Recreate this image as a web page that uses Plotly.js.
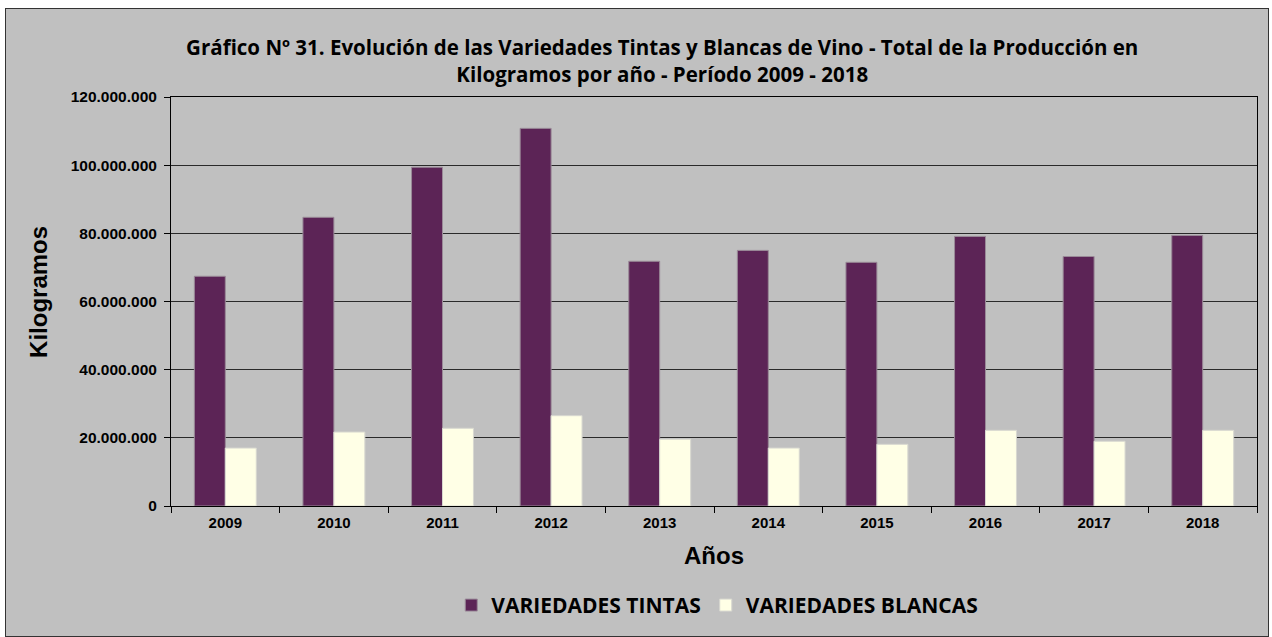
<!DOCTYPE html>
<html>
<head>
<meta charset="utf-8">
<script src="https://cdn.plot.ly/plotly-3.0.1.min.js"></script>
<style>
  html, body { margin: 0; padding: 0; background: #ffffff; }
  #frame { position: absolute; left: 5px; top: 8px; width: 1262px; height: 627px; border: 1px solid #333; background: #c0c0c0; }
  #chart { width: 1262px; height: 627px; }
</style>
</head>
<body>
<div id="frame"><div id="chart"></div></div>
<script>
const years = ["2009", "2010", "2011", "2012", "2013", "2014", "2015", "2016", "2017", "2018"];
const tintas = [67400000, 84700000, 99400000, 110800000, 71800000, 75000000, 71500000, 79100000, 73200000, 79400000];
const blancas = [17000000, 21700000, 22800000, 26500000, 19600000, 17000000, 18100000, 22200000, 19000000, 22200000];
const yTicks = [0, 20000000, 40000000, 60000000, 80000000, 100000000, 120000000];

const axisFamily = "Liberation Sans, Arial, sans-serif";

const data = [
  { type: "bar", name: "VARIEDADES TINTAS", x: years, y: tintas,
    marker: { color: "#5c2456", line: { color: "#9a8a98", width: 1 } } },
  { type: "bar", name: "VARIEDADES BLANCAS", x: years, y: blancas,
    marker: { color: "#ffffe6", line: { color: "#d8d8d0", width: 1 } } }
];

const layout = {
  width: 1262, height: 627,
  paper_bgcolor: "#c0c0c0", plot_bgcolor: "#c0c0c0",
  separators: ",.",
  margin: { l: 165, r: 11, t: 88, b: 130, autoexpand: false },
  barmode: "group", bargap: 0.43, bargroupgap: 0,
  title: {
    text: "Gráfico Nº 31. Evolución de las Variedades Tintas y Blancas de Vino - Total de la Producción en<br>Kilogramos por año - Período 2009 - 2018",
    x: 0.52, xanchor: "center", y: 0.926, yanchor: "top",
    font: { family: "Open Sans, Noto Sans, sans-serif", size: 20.5, color: "#000", weight: "bold" }
  },
  xaxis: {
    type: "category", tickson: "boundaries", ticks: "outside", ticklen: 6, tickcolor: "#000",
    showline: true, linecolor: "#000", linewidth: 1, mirror: true,
    tickfont: { family: axisFamily, size: 15, color: "#000", weight: "bold" }, ticklabelstandoff: 3,
    title: { text: "Años", standoff: 17, font: { family: axisFamily, size: 24, color: "#000", weight: "bold" } }
  },
  yaxis: {
    range: [0, 120000000], tickvals: yTicks, tickformat: ",d",
    ticks: "outside", ticklen: 6, tickcolor: "#000",
    showline: true, linecolor: "#000", linewidth: 1, mirror: true,
    showgrid: true, gridcolor: "#2a2a2a", gridwidth: 1.3,
    zeroline: false,
    tickfont: { family: axisFamily, size: 15.5, color: "#000", weight: "bold" }, ticklabelstandoff: 4
  },
  annotations: [{
    text: "Kilogramos", textangle: -90, showarrow: false,
    xref: "paper", yref: "paper", x: -0.1226, y: 0.523, xanchor: "center", yanchor: "middle",
    font: { family: axisFamily, size: 24, color: "#000", weight: "bold" }
  }],
  legend: {
    orientation: "h", x: 0.503, xanchor: "center", y: -0.193, yanchor: "top",
    font: { family: "Open Sans, Noto Sans, sans-serif", size: 21, color: "#000", weight: "bold" },
    bgcolor: "rgba(0,0,0,0)", itemwidth: 30, tracegroupgap: 0
  },
  showlegend: true
};

Plotly.newPlot("chart", data, layout, { displayModeBar: false, staticPlot: true });
</script>
</body>
</html>
